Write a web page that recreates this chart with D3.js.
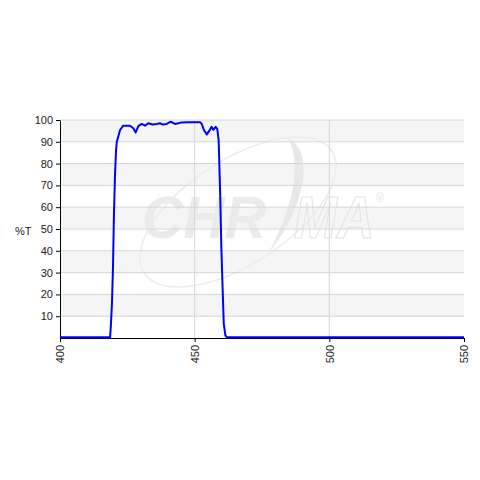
<!DOCTYPE html>
<html>
<head>
<meta charset="utf-8">
<script src="https://cdn.jsdelivr.net/npm/d3@7"></script>
<style>
body { margin: 0; background: #fff; }
text { font-family: "Liberation Sans", Arial, sans-serif; }
</style>
</head>
<body>
<div id="chart"></div>
<script>
// wavelength (nm) and transmission (%T)
var wavelength = [400, 418.6, 418.9, 419.3, 419.7, 420.0, 420.4, 420.8, 421.1, 422.3, 423.5, 426.0, 427.2, 428.1, 429.1,
    430.3, 431.6, 432.8, 434.4, 435.9, 437.1, 438.2, 439.6, 441.1, 442.7, 443.9, 445.2, 447.2, 452.0, 452.6,
    453.5, 454.5, 455.4, 456.3, 456.9, 457.8, 458.4, 458.9, 459.5, 459.9, 460.4, 460.8, 461.4, 462.0, 550]
var transmission = [0.3, 0.3, 6, 16, 34, 55, 74, 86, 90, 95.4, 97.4, 97.4, 96.2, 94.3, 97.2,
    98.2, 97.4, 98.5, 97.9, 98.2, 98.5, 97.9, 98.2, 99.2, 98.2, 98.5, 98.9, 99.0, 99.0, 98.2,
    95.3, 93.4, 95.0, 96.9, 95.5, 96.9, 95.8, 90.8, 64.8, 41.8, 21.9, 6.6, 1.2, 0.3, 0.3]
var yTicks = [10, 20, 30, 40, 50, 60, 70, 80, 90, 100]
var xTicks = [400, 450, 500, 550]

var width = 480, height = 480
var svg = d3.select("#chart").append("svg")
    .attr("width", width)
    .attr("height", height)

var x = d3.scaleLinear().domain([400, 550]).range([60, 464])
var y = d3.scaleLinear().domain([0, 100]).range([338, 120])

// alternating bands
var bands = d3.range(0, 100, 10)
svg.selectAll("rect.band")
    .data(bands)
    .enter()
    .append("rect")
    .attr("x", x(400))
    .attr("width", x(550) - x(400))
    .attr("y", d => y(d + 10))
    .attr("height", d => y(d) - y(d + 10))
    .attr("fill", d => (d / 10) % 2 == 1 ? "#f5f5f5" : "#ffffff")

// watermark
var wm = svg.append("g")
wm.append("ellipse")
    .attr("cx", 238).attr("cy", 212)
    .attr("rx", 112).attr("ry", 52)
    .attr("transform", "rotate(-33,238,212)")
    .attr("fill", "none")
    .attr("stroke", "#ededed")
    .attr("stroke-width", 1.5)
wm.append("path")
    .attr("d", "M288,138 C314,150 308,205 268,254 C294,205 302,165 288,138 Z")
    .attr("fill", "#e8e8e8")
wm.append("text")
    .attr("x", 142).attr("y", 238)
    .attr("font-size", 60)
    .attr("font-weight", "bold")
    .attr("font-style", "italic")
    .attr("fill", "#ebebeb")
    .attr("textLength", 124)
    .attr("lengthAdjust", "spacingAndGlyphs")
    .text("CHR")
var ma = wm.append("text")
    .attr("transform", "translate(294,238) scale(0.86,1)")
    .attr("font-size", 60)
    .attr("font-weight", "bold")
    .attr("font-style", "italic")
ma.append("tspan")
    .attr("fill", "none")
    .attr("stroke", "#e4e4e4")
    .attr("stroke-width", 1.2)
    .text("MA")
ma.append("tspan")
    .attr("font-size", 13)
    .attr("font-weight", "normal")
    .attr("font-style", "normal")
    .attr("fill", "#e4e4e4")
    .attr("dx", 2)
    .attr("dy", -36)
    .text("®")

// gridlines
svg.selectAll("line.hgrid")
    .data(yTicks)
    .enter()
    .append("line")
    .attr("x1", x(400)).attr("x2", x(550))
    .attr("y1", d => y(d)).attr("y2", d => y(d))
    .attr("stroke", "#d6d6d6")
svg.selectAll("line.vgrid")
    .data([450, 500])
    .enter()
    .append("line")
    .attr("x1", d => x(d)).attr("x2", d => x(d))
    .attr("y1", y(100)).attr("y2", y(0))
    .attr("stroke", "#d6d6d6")

// axes
var yAxis = svg.append("g")
    .attr("transform", "translate(" + x(400) + ",0)")
    .call(d3.axisLeft(y).tickValues(yTicks).tickSize(4).tickSizeOuter(0))
yAxis.select(".domain").attr("stroke", "#000")
yAxis.selectAll("text").attr("font-size", 11).attr("fill", "#222").attr("font-family", "Liberation Sans, Arial, sans-serif")

var xAxis = svg.append("g")
    .attr("transform", "translate(0," + y(0) + ")")
    .call(d3.axisBottom(x).tickValues(xTicks).tickSize(4).tickSizeOuter(0).tickFormat(d3.format("d")))
xAxis.select(".domain").attr("stroke", "#000")
xAxis.selectAll("text")
    .attr("font-size", 11)
    .attr("fill", "#222")
    .attr("font-family", "Liberation Sans, Arial, sans-serif")
    .attr("text-anchor", "end")
    .attr("transform", "rotate(-90)")
    .attr("x", -7)
    .attr("y", 0)
    .attr("dy", "0.35em")

svg.append("text")
    .attr("x", 15).attr("y", 235)
    .attr("font-size", 11)
    .attr("fill", "#222")
    .text("%T")

// transmission curve
var line = d3.line()
    .x((d, i) => x(wavelength[i]))
    .y(d => y(d))
svg.append("path")
    .datum(transmission)
    .attr("d", line)
    .attr("fill", "none")
    .attr("stroke", "#0000ff")
    .attr("stroke-width", 2)
    .attr("stroke-linejoin", "round")
</script>
</body>
</html>
